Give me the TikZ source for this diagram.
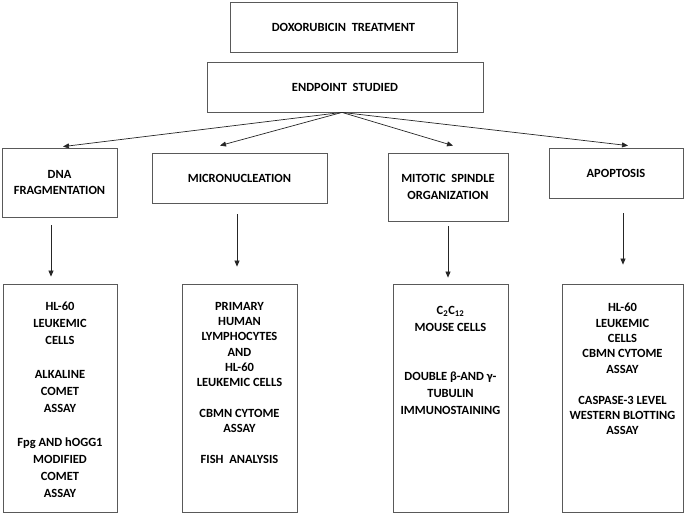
\documentclass[tikz,border=0pt]{standalone}
\usepackage{fontspec}
\setmainfont{Carlito}
\usetikzlibrary{arrows.meta}
\tikzstyle{stage}=[draw=black!65,line width=0.8pt,inner sep=2pt,align=center,font=\bfseries\fontsize{12.5}{16.5}\selectfont]
\tikzstyle{assay}=[draw=black!65,line width=0.8pt,minimum height=228pt]
\tikzstyle{assaytext}=[anchor=north,inner sep=0pt,align=center,font=\bfseries\fontsize{12.5}{15.5}\selectfont]
\tikzstyle{link}=[draw,black!85,line width=0.7pt,-{Triangle[length=6pt,width=5pt]}]

\begin{document}
\begin{tikzpicture}[x=1pt,y=-1pt]
                \useasboundingbox (0,0) rectangle (685,516);
                \node[stage,minimum width=227pt,minimum height=50pt] (treat) at (343.5,27) {DOXORUBICIN\ \ TREATMENT};
                \node[stage,minimum width=276pt,minimum height=50pt] (endpt) at (345,87) {ENDPOINT\ \ STUDIED};
                \node[stage,minimum width=115pt,minimum height=69pt] (dna) at (59.5,182.5) {DNA\\FRAGMENTATION};
                \node[stage,minimum width=175pt,minimum height=50pt] (micro) at (239.5,178) {MICRONUCLEATION};
                \node[stage,minimum width=120pt,minimum height=68pt] (spindle) at (448,187) {MITOTIC\ \ SPINDLE\\ORGANIZATION};
                \node[stage,minimum width=134pt,minimum height=50pt] (apopt) at (616,173) {APOPTOSIS};

                \node[assay,minimum width=114pt] (dnabox) at (60,398) {};
                \node[assay,minimum width=115pt] (microbox) at (239.5,398) {};
                \node[assay,minimum width=115pt] (spindlebox) at (450.5,398) {};
                \node[assay,minimum width=121pt] (apoptbox) at (622.5,398) {};

                \node[assaytext,font=\bfseries\fontsize{12.5}{17}\selectfont] (dnatext) at (60,302)
                    {HL-60\\LEUKEMIC\\CELLS\\[17pt]ALKALINE\\COMET\\ASSAY\\[17pt]Fpg AND hOGG1\\MODIFIED\\COMET\\ASSAY};
                \node[assaytext,font=\bfseries\fontsize{12.5}{15.3}\selectfont] (microtext) at (239.5,302)
                    {PRIMARY\\HUMAN\\LYMPHOCYTES\\AND\\HL-60\\LEUKEMIC CELLS\\[15.3pt]CBMN CYTOME\\ASSAY\\[15.3pt]FISH\ \ ANALYSIS};
                \node[assaytext,font=\bfseries\fontsize{12.5}{16.6}\selectfont] (spindletext) at (450.5,306)
                    {C\textsubscript{2}C\textsubscript{12}\\MOUSE CELLS\\[33.2pt]DOUBLE β-AND γ-\\TUBULIN\\IMMUNOSTAINING};
                \node[assaytext,font=\bfseries\fontsize{12.5}{15.4}\selectfont] (apopttext) at (622.5,303)
                    {HL-60\\LEUKEMIC\\CELLS\\CBMN CYTOME\\ASSAY\\[15.4pt]CASPASE-3 LEVEL\\WESTERN BLOTTING\\ASSAY};

                \coordinate (hub) at ([xshift=-3pt]endpt.south);
                \path[link] (hub) -- ([xshift=3.5pt,yshift=1pt]dna.north);
                \path[link] (hub) -- ([xshift=-19.5pt,yshift=7pt]micro.north);
                \path[link] (hub) -- ([xshift=5pt,yshift=7pt]spindle.north);
                \path[link] (hub) -- ([xshift=12pt,yshift=2pt]apopt.north);

                \path[link] ([xshift=-8.5pt,yshift=-8pt]dna.south) -- ([xshift=-9pt,yshift=7pt]dnabox.north);
                \path[link] ([xshift=-2.5pt,yshift=-11pt]micro.south) -- ([xshift=-2.5pt,yshift=17pt]microbox.north);
                \path[link] ([yshift=-5pt]spindle.south) -- ([xshift=-2.5pt,yshift=6pt]spindlebox.north);
                \path[link] ([xshift=7pt,yshift=-15pt]apopt.south) -- ([xshift=0.5pt,yshift=19pt]apoptbox.north);
            \end{tikzpicture}
\end{document}
